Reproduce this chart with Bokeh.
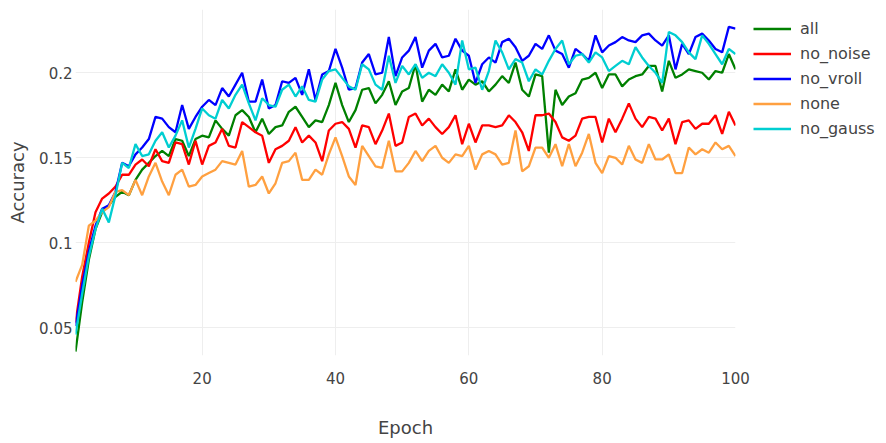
from bokeh.plotting import figure
from bokeh.models import Range1d, FixedTicker, Legend, LegendItem
from bokeh.embed import file_html
from bokeh.resources import INLINE

epochs = list(range(1, 101))

acc_all = [0.036, 0.065, 0.090, 0.108, 0.118, 0.122, 0.127, 0.130, 0.128, 0.137,
           0.143, 0.147, 0.151, 0.154, 0.151, 0.161, 0.160, 0.151, 0.161, 0.163,
           0.162, 0.172, 0.167, 0.163, 0.175, 0.178, 0.174, 0.165, 0.173, 0.164,
           0.168, 0.169, 0.177, 0.180, 0.174, 0.168, 0.172, 0.171, 0.181, 0.194,
           0.181, 0.171, 0.178, 0.190, 0.191, 0.182, 0.187, 0.195, 0.181, 0.189,
           0.191, 0.205, 0.183, 0.190, 0.187, 0.193, 0.189, 0.202, 0.190, 0.196,
           0.193, 0.195, 0.189, 0.193, 0.198, 0.194, 0.206, 0.190, 0.186, 0.199,
           0.198, 0.153, 0.190, 0.181, 0.186, 0.188, 0.196, 0.197, 0.200, 0.191,
           0.199, 0.199, 0.192, 0.196, 0.198, 0.199, 0.204, 0.204, 0.189, 0.207,
           0.197, 0.199, 0.202, 0.201, 0.200, 0.196, 0.201, 0.200, 0.211, 0.202]

acc_no_noise = [0.053, 0.080, 0.100, 0.118, 0.126, 0.129, 0.133, 0.140, 0.140, 0.146,
                0.149, 0.145, 0.155, 0.148, 0.147, 0.159, 0.158, 0.146, 0.160, 0.146,
                0.157, 0.159, 0.167, 0.157, 0.156, 0.171, 0.168, 0.165, 0.163, 0.147,
                0.155, 0.157, 0.160, 0.168, 0.159, 0.163, 0.159, 0.148, 0.166, 0.170,
                0.171, 0.167, 0.156, 0.169, 0.168, 0.158, 0.166, 0.176, 0.157, 0.159,
                0.174, 0.176, 0.169, 0.173, 0.168, 0.164, 0.168, 0.175, 0.158, 0.170,
                0.159, 0.169, 0.169, 0.168, 0.169, 0.175, 0.171, 0.165, 0.154, 0.175,
                0.175, 0.176, 0.171, 0.162, 0.160, 0.163, 0.173, 0.174, 0.174, 0.159,
                0.173, 0.165, 0.173, 0.182, 0.173, 0.168, 0.174, 0.173, 0.166, 0.173,
                0.158, 0.171, 0.172, 0.167, 0.170, 0.170, 0.175, 0.164, 0.177, 0.169]

acc_no_vroll = [0.051, 0.075, 0.095, 0.110, 0.120, 0.122, 0.130, 0.147, 0.145, 0.152,
                0.156, 0.161, 0.174, 0.173, 0.168, 0.165, 0.181, 0.167, 0.174, 0.180,
                0.184, 0.181, 0.191, 0.186, 0.193, 0.200, 0.183, 0.183, 0.196, 0.179,
                0.181, 0.195, 0.194, 0.197, 0.187, 0.202, 0.184, 0.199, 0.201, 0.214,
                0.203, 0.190, 0.191, 0.206, 0.211, 0.199, 0.200, 0.221, 0.198, 0.209,
                0.213, 0.221, 0.203, 0.213, 0.217, 0.209, 0.210, 0.220, 0.213, 0.210,
                0.194, 0.205, 0.209, 0.206, 0.218, 0.220, 0.215, 0.207, 0.210, 0.217,
                0.214, 0.222, 0.213, 0.211, 0.203, 0.214, 0.211, 0.207, 0.222, 0.212,
                0.216, 0.218, 0.221, 0.219, 0.218, 0.222, 0.223, 0.219, 0.216, 0.222,
                0.202, 0.217, 0.211, 0.221, 0.223, 0.219, 0.214, 0.212, 0.227, 0.226]

acc_none = [0.077, 0.087, 0.110, 0.113, 0.118, 0.121, 0.130, 0.131, 0.128, 0.137,
            0.128, 0.139, 0.147, 0.136, 0.128, 0.140, 0.143, 0.133, 0.134, 0.139,
            0.141, 0.143, 0.148, 0.147, 0.146, 0.154, 0.133, 0.134, 0.139, 0.129,
            0.135, 0.147, 0.148, 0.153, 0.137, 0.137, 0.143, 0.140, 0.152, 0.162,
            0.151, 0.139, 0.134, 0.157, 0.151, 0.145, 0.144, 0.160, 0.142, 0.142,
            0.147, 0.154, 0.148, 0.154, 0.157, 0.150, 0.147, 0.152, 0.151, 0.157,
            0.143, 0.152, 0.154, 0.152, 0.146, 0.147, 0.166, 0.142, 0.145, 0.156,
            0.156, 0.150, 0.158, 0.145, 0.158, 0.145, 0.153, 0.164, 0.147, 0.141,
            0.151, 0.150, 0.146, 0.157, 0.149, 0.147, 0.158, 0.149, 0.149, 0.152,
            0.141, 0.141, 0.156, 0.152, 0.155, 0.153, 0.159, 0.155, 0.157, 0.151]

acc_no_gauss = [0.046, 0.070, 0.092, 0.108, 0.120, 0.112, 0.128, 0.147, 0.144, 0.158,
                0.151, 0.152, 0.160, 0.165, 0.156, 0.163, 0.172, 0.156, 0.167, 0.179,
                0.175, 0.173, 0.184, 0.179, 0.187, 0.193, 0.182, 0.172, 0.185, 0.181,
                0.180, 0.190, 0.193, 0.186, 0.192, 0.184, 0.183, 0.196, 0.201, 0.202,
                0.197, 0.192, 0.190, 0.205, 0.202, 0.193, 0.190, 0.210, 0.194, 0.204,
                0.199, 0.205, 0.197, 0.200, 0.198, 0.205, 0.200, 0.193, 0.219, 0.202,
                0.203, 0.190, 0.201, 0.219, 0.212, 0.202, 0.208, 0.206, 0.195, 0.202,
                0.199, 0.207, 0.214, 0.219, 0.205, 0.210, 0.211, 0.206, 0.212, 0.209,
                0.201, 0.204, 0.207, 0.205, 0.215, 0.209, 0.204, 0.200, 0.194, 0.224,
                0.222, 0.218, 0.212, 0.208, 0.222, 0.217, 0.211, 0.205, 0.214, 0.211]

series_names = ["all", "no_noise", "no_vroll", "none", "no_gauss"]
series_values = [acc_all, acc_no_noise, acc_no_vroll, acc_none, acc_no_gauss]
series_colors = ["#008000", "#ff0000", "#0000ff", "#ffa040", "#00ced1"]

x_ticks = [20, 40, 60, 80, 100]
y_ticks = [0.05, 0.1, 0.15, 0.2]
y_tick_labels = {0.05: "0.05", 0.1: "0.1", 0.15: "0.15", 0.2: "0.2"}

FONT = "DejaVu Sans"
TXT = "#444444"

p = figure(frame_width=660, frame_height=346, output_backend="svg",
           toolbar_location=None,
           x_range=Range1d(1, 100), y_range=Range1d(0.0337, 0.2372),
           min_border_left=75, min_border_right=135, min_border_top=9,
           min_border_bottom=86)
p.outline_line_color = None
p.background_fill_color = "white"

renderers = []
for name, vals, col in zip(series_names, series_values, series_colors):
    r = p.line(epochs, vals, line_color=col, line_width=2.3)
    renderers.append((name, r))

for ax in (p.xaxis[0], p.yaxis[0]):
    ax.axis_line_color = None
    ax.major_tick_line_color = None
    ax.minor_tick_line_color = None
    ax.major_label_text_font = FONT
    ax.major_label_text_font_size = "15px"
    ax.major_label_text_color = TXT
    ax.axis_label_text_font = FONT
    ax.axis_label_text_font_size = "18px"
    ax.axis_label_text_font_style = "normal"
    ax.axis_label_text_color = TXT

p.xaxis.ticker = FixedTicker(ticks=x_ticks)
p.yaxis.ticker = FixedTicker(ticks=y_ticks)
p.yaxis.major_label_overrides = y_tick_labels
p.xaxis.axis_label = "Epoch"
p.yaxis.axis_label = "Accuracy"
p.xaxis.major_tick_out = 0
p.yaxis.major_tick_out = 0
p.xaxis.major_label_standoff = 16
p.xaxis.axis_label_standoff = 30
p.yaxis.major_label_standoff = 3
p.yaxis.axis_label_standoff = 8

p.xgrid.grid_line_color = "#eeeeee"
p.ygrid.grid_line_color = "#eeeeee"
p.xgrid.grid_line_width = 1
p.ygrid.grid_line_width = 1

legend = Legend(items=[LegendItem(label=n, renderers=[r]) for n, r in renderers],
                location=(18, 214), orientation="vertical")
legend.label_text_font = FONT
legend.label_text_font_size = "16px"
legend.label_text_color = TXT
legend.glyph_width = 38
legend.glyph_height = 25
legend.label_height = 25
legend.label_standoff = 9
legend.spacing = 0
legend.padding = 0
legend.margin = 0
legend.border_line_color = None
legend.background_fill_alpha = 0
p.add_layout(legend, "right")

open("out.html", "w").write(file_html(p, INLINE))
